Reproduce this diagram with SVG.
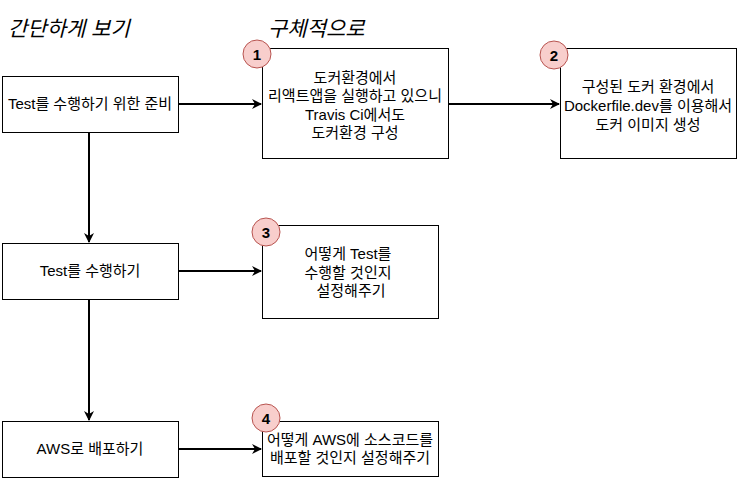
<svg xmlns="http://www.w3.org/2000/svg" width="746" height="483" viewBox="0 0 746 483">
<style>
.box{fill:#fff;stroke:#000;stroke-width:1}
.t{font-family:"Liberation Sans","Noto Sans CJK KR",sans-serif;font-size:15px;fill:#000;text-anchor:middle}
.h{font-family:"Liberation Sans","Noto Sans CJK KR",sans-serif;font-size:21px;font-style:italic;fill:#000}
.c{fill:#f8cecc;stroke:#b85450;stroke-width:1}
.n{font-family:"Liberation Sans",sans-serif;font-size:15px;font-weight:bold;fill:#000;text-anchor:middle}
.e{fill:none;stroke:#000;stroke-width:2}
</style>
<defs>
<marker id="ah" markerWidth="10" markerHeight="10" refX="9" refY="5" orient="auto" markerUnits="userSpaceOnUse">
<path d="M0,0 L10,5 L0,10 L3,5 Z" fill="#000"/>
</marker>
</defs>
<text class="h" x="8" y="36">간단하게 보기</text>
<text class="h" x="268" y="36">구체적으로</text>
<g id="connectors">
<path class="e" d="M178,104 L261,104" marker-end="url(#ah)"/>
<path class="e" d="M448,104 L559,104" marker-end="url(#ah)"/>
<path class="e" d="M89,132 L89,242" marker-end="url(#ah)"/>
<path class="e" d="M89,299 L89,420" marker-end="url(#ah)"/>
<path class="e" d="M178,271 L261,271" marker-end="url(#ah)"/>
<path class="e" d="M178,449 L261,449" marker-end="url(#ah)"/>
</g>
<g id="prep">
<rect class="box" x="2.5" y="76.5" width="176" height="56"/>
<text class="t" x="90" y="109">Test를 수행하기 위한 준비</text>
</g>
<g id="test">
<rect class="box" x="2.5" y="243.5" width="176" height="56"/>
<text class="t" x="90" y="276">Test를 수행하기</text>
</g>
<g id="aws">
<rect class="box" x="2.5" y="421.5" width="176" height="56"/>
<text class="t" x="90" y="454">AWS로 배포하기</text>
</g>
<g id="step1">
<rect class="box" x="262.5" y="48.5" width="186" height="110"/>
<text class="t" x="355" y="83">도커환경에서</text>
<text class="t" x="355" y="101">리액트앱을 실행하고 있으니</text>
<text class="t" x="355" y="120">Travis Ci에서도</text>
<text class="t" x="355" y="138">도커환경 구성</text>
<circle class="c" cx="257" cy="54" r="14"/>
<text class="n" x="257" y="59.5">1</text>
</g>
<g id="step2">
<rect class="box" x="560.5" y="48.5" width="176" height="110"/>
<text class="t" x="648" y="92">구성된 도커 환경에서</text>
<text class="t" x="648" y="111">Dockerfile.dev를 이용해서</text>
<text class="t" x="648" y="130">도커 이미지 생성</text>
<circle class="c" cx="554" cy="55" r="14"/>
<text class="n" x="554" y="60.5">2</text>
</g>
<g id="step3">
<rect class="box" x="262.5" y="225.5" width="176" height="93"/>
<text class="t" x="348" y="259">어떻게 Test를</text>
<text class="t" x="348" y="278">수행할 것인지</text>
<text class="t" x="351" y="296">설정해주기</text>
<circle class="c" cx="266" cy="232" r="14"/>
<text class="n" x="266" y="237.5">3</text>
</g>
<g id="step4">
<rect class="box" x="262.5" y="421.5" width="176" height="55"/>
<text class="t" x="350" y="445">어떻게 AWS에 소스코드를</text>
<text class="t" x="350" y="463">배포할 것인지 설정해주기</text>
<circle class="c" cx="266" cy="418" r="14"/>
<text class="n" x="266" y="423.5">4</text>
</g>
</svg>
